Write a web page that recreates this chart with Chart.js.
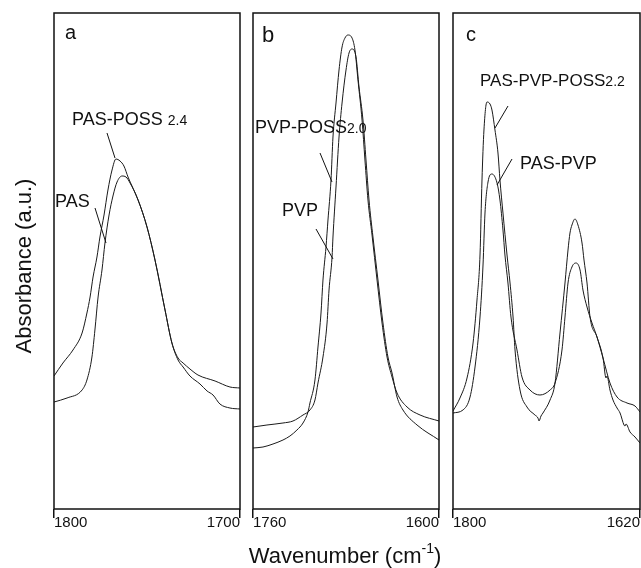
<!DOCTYPE html>
<html>
<head>
<meta charset="utf-8">
<script src="https://cdn.jsdelivr.net/npm/chart.js@4.4.1/dist/chart.umd.min.js"></script>
<style>
  body { margin: 0; width: 641px; height: 568px; overflow: hidden; background: #fff; }
  .panel { position: absolute; top: 0; }
  #notes { position: absolute; left: 0; top: 0; }
  #notes line { stroke: #111; stroke-width: 1; }
</style>
</head>
<body>
<div class="panel" style="left:50px"><canvas id="chartA" width="194" height="528"></canvas></div>
<div class="panel" style="left:249px"><canvas id="chartB" width="194" height="528"></canvas></div>
<div class="panel" style="left:449px"><canvas id="chartC" width="194" height="528"></canvas></div>

<svg id="notes" width="641" height="568" font-family="'Liberation Sans', Arial, sans-serif" fill="#111">
  <text x="65" y="39" font-size="20">a</text>
  <text x="72" y="125" font-size="18">PAS-POSS <tspan font-size="14">2.4</tspan></text>
  <line x1="107" y1="133" x2="115" y2="158"/>
  <text x="55" y="207" font-size="18">PAS</text>
  <line x1="95" y1="208" x2="106" y2="243"/>

  <text x="262" y="42" font-size="22">b</text>
  <text x="255" y="133" font-size="18">PVP-POSS<tspan font-size="14">2.0</tspan></text>
  <line x1="320" y1="153" x2="332" y2="182"/>
  <text x="282" y="216" font-size="18">PVP</text>
  <line x1="316" y1="229" x2="333" y2="259"/>

  <text x="466" y="41" font-size="20">c</text>
  <text x="480" y="86" font-size="17">PAS-PVP-POSS<tspan font-size="14">2.2</tspan></text>
  <line x1="508" y1="106" x2="495" y2="128"/>
  <text x="520" y="169" font-size="18">PAS-PVP</text>
  <line x1="512" y1="159" x2="497" y2="185"/>

  <text x="345" y="563" font-size="22" text-anchor="middle">Wavenumber (cm<tspan font-size="14" dy="-10">-1</tspan><tspan dy="10">)</tspan></text>
  <text transform="translate(31,266) rotate(-90)" font-size="22" text-anchor="middle">Absorbance (a.u.)</text>
</svg>

<script>
// ===== DATA =====
const ticksA = [1700, 1800];
const ticksB = [1600, 1760];
const ticksC = [1620, 1800];

// panel a
const pasPossWn  = [1800, 1795.2, 1789.8, 1784.9, 1782.3, 1780.6, 1779.0, 1776.9, 1775.3, 1773.1, 1771.0, 1768.8, 1766.7, 1764.5, 1762.4, 1760.2, 1754.8, 1750.0, 1745.7, 1740.3, 1736.6, 1733.3, 1730.6, 1726.9, 1722.6, 1713.4, 1705.4, 1700];
const pasPossAbs = [0.133, 0.146, 0.159, 0.176, 0.196, 0.212, 0.232, 0.252, 0.272, 0.294, 0.319, 0.339, 0.350, 0.348, 0.343, 0.332, 0.309, 0.282, 0.249, 0.199, 0.166, 0.151, 0.146, 0.140, 0.134, 0.128, 0.122, 0.121];
const pasWn  = [1800, 1793.0, 1784.9, 1782.3, 1779.6, 1778.0, 1776.3, 1774.2, 1772.6, 1770.4, 1768.3, 1766.1, 1763.4, 1761.3, 1759.1, 1754.8, 1750.0, 1745.7, 1740.3, 1736.6, 1733.3, 1730.6, 1726.9, 1721.5, 1717.7, 1714.5, 1710.8, 1705.4, 1700];
const pasAbs = [0.107, 0.111, 0.119, 0.129, 0.152, 0.179, 0.212, 0.239, 0.266, 0.294, 0.313, 0.327, 0.333, 0.332, 0.326, 0.309, 0.282, 0.249, 0.199, 0.166, 0.149, 0.142, 0.133, 0.125, 0.118, 0.114, 0.105, 0.101, 0.100];

// panel b
const pvpPossWn  = [1760, 1751.4, 1742.8, 1734.2, 1728.2, 1722.2, 1717.0, 1712.7, 1711.0, 1706.7, 1704.1, 1701.5, 1699.8, 1697.2, 1695.5, 1692.9, 1691.2, 1688.6, 1686.0, 1683.4, 1680.9, 1678.3, 1674.8, 1672.3, 1669.7, 1666.2, 1663.7, 1661.1, 1657.6, 1653.3, 1649.0, 1644.7, 1640.4, 1636.1, 1627.5, 1616.3, 1600];
const pvpPossAbs = [0.061, 0.062, 0.065, 0.069, 0.073, 0.079, 0.086, 0.097, 0.106, 0.129, 0.162, 0.196, 0.229, 0.262, 0.289, 0.329, 0.372, 0.406, 0.439, 0.462, 0.471, 0.474, 0.471, 0.459, 0.429, 0.389, 0.349, 0.309, 0.274, 0.229, 0.186, 0.152, 0.132, 0.116, 0.102, 0.094, 0.088];
const pvpWn  = [1760, 1748.0, 1734.2, 1725.6, 1717.0, 1711.0, 1706.7, 1704.1, 1699.8, 1696.3, 1694.6, 1692.0, 1691.2, 1688.6, 1686.0, 1683.4, 1680.0, 1677.4, 1674.8, 1671.4, 1668.8, 1665.4, 1662.8, 1660.2, 1656.8, 1652.5, 1648.2, 1643.9, 1640.4, 1636.1, 1631.0, 1618.9, 1600];
const pvpAbs = [0.082, 0.084, 0.086, 0.088, 0.094, 0.099, 0.109, 0.126, 0.152, 0.186, 0.219, 0.252, 0.272, 0.322, 0.372, 0.406, 0.439, 0.456, 0.460, 0.452, 0.422, 0.389, 0.349, 0.309, 0.272, 0.229, 0.186, 0.152, 0.136, 0.112, 0.099, 0.084, 0.069];

// panel c
const blendPossWn  = [1800, 1793.3, 1786.5, 1780.7, 1776.9, 1774.0, 1772.1, 1770.2, 1767.3, 1764.4, 1762.5, 1759.6, 1756.7, 1754.8, 1751.9, 1748.0, 1745.1, 1742.2, 1740.3, 1735.5, 1728.8, 1721.1, 1718.2, 1717.2, 1715.3, 1713.4, 1706.6, 1701.8, 1697.0, 1692.2, 1689.3, 1687.4, 1685.5, 1682.6, 1679.7, 1675.8, 1673.9, 1671.0, 1668.1, 1661.4, 1655.6, 1652.7, 1651.8, 1648.9, 1646.0, 1642.1, 1639.2, 1635.4, 1634.4, 1633.5, 1629.6, 1624.8, 1620];
const blendPossAbs = [0.098, 0.111, 0.131, 0.166, 0.209, 0.254, 0.329, 0.379, 0.407, 0.405, 0.399, 0.379, 0.356, 0.329, 0.296, 0.254, 0.226, 0.192, 0.159, 0.119, 0.102, 0.094, 0.091, 0.088, 0.093, 0.096, 0.109, 0.126, 0.176, 0.226, 0.259, 0.276, 0.284, 0.290, 0.284, 0.266, 0.249, 0.226, 0.192, 0.172, 0.151, 0.131, 0.133, 0.119, 0.109, 0.101, 0.096, 0.084, 0.083, 0.085, 0.077, 0.072, 0.066];
const blendWn  = [1800, 1790.4, 1783.6, 1778.8, 1774.0, 1771.1, 1769.2, 1766.3, 1762.5, 1757.6, 1754.8, 1751.9, 1750.0, 1747.1, 1744.2, 1738.4, 1733.6, 1725.9, 1716.3, 1706.6, 1701.8, 1695.1, 1692.2, 1689.3, 1685.5, 1681.6, 1677.7, 1674.9, 1671.0, 1666.2, 1661.4, 1655.6, 1648.9, 1642.1, 1632.5, 1624.8, 1620];
const blendAbs = [0.096, 0.099, 0.112, 0.142, 0.192, 0.244, 0.296, 0.327, 0.335, 0.326, 0.309, 0.279, 0.254, 0.226, 0.192, 0.159, 0.132, 0.119, 0.114, 0.119, 0.126, 0.159, 0.192, 0.226, 0.242, 0.246, 0.239, 0.219, 0.202, 0.186, 0.172, 0.151, 0.126, 0.112, 0.106, 0.103, 0.097];

const FONT = "'Liberation Sans', Arial, sans-serif";
const INK = '#111';

function pairs(wn, ab) {
  return wn.map(function (w, i) { return { x: w, y: ab[i] }; });
}

// box round the plot area
const framePlugin = {
  id: 'frame',
  afterDraw: function (chart) {
    const a = chart.chartArea;
    const ctx = chart.ctx;
    ctx.save();
    ctx.strokeStyle = INK;
    ctx.lineWidth = 1.5;
    ctx.strokeRect(a.left, a.top, a.right - a.left, a.bottom - a.top);
    ctx.restore();
  }
};

function makePanel(id, ticks, series, padRight) {
  new Chart(document.getElementById(id), {
    type: 'line',
    data: {
      datasets: series.map(function (s) {
        return {
          label: s.label,
          data: pairs(s.wn, s.ab),
          borderColor: '#1a1a1a',
          borderWidth: 1,
          pointRadius: 0,
          fill: false,
          cubicInterpolationMode: 'monotone'
        };
      })
    },
    options: {
      responsive: false,
      animation: false,
      events: [],
      layout: { padding: { left: 4, right: padRight, top: 13, bottom: 0 } },
      plugins: { legend: { display: false }, tooltip: { enabled: false } },
      scales: {
        x: {
          type: 'linear',
          reverse: true,
          min: ticks[0],
          max: ticks[1],
          afterBuildTicks: function (ax) { ax.ticks = ticks.map(function (v) { return { value: v }; }); },
          grid: { display: true, drawOnChartArea: false, drawTicks: true, tickLength: 9, color: INK, lineWidth: 1.5 },
          border: { display: false },
          ticks: {
            align: 'inner',
            padding: -4,
            maxRotation: 0,
            autoSkip: false,
            color: INK,
            font: { family: FONT, size: 15 },
            callback: function (v) { return String(v); }
          }
        },
        y: { display: false, min: 0, max: 0.496 }
      }
    },
    plugins: [framePlugin]
  });
}

makePanel('chartA', ticksA, [
  { label: 'PAS-POSS 2.4', wn: pasPossWn, ab: pasPossAbs },
  { label: 'PAS', wn: pasWn, ab: pasAbs }
], 4);

makePanel('chartB', ticksB, [
  { label: 'PVP-POSS2.0', wn: pvpPossWn, ab: pvpPossAbs },
  { label: 'PVP', wn: pvpWn, ab: pvpAbs }
], 4);

makePanel('chartC', ticksC, [
  { label: 'PAS-PVP-POSS2.2', wn: blendPossWn, ab: blendPossAbs },
  { label: 'PAS-PVP', wn: blendWn, ab: blendAbs }
], 3);
</script>
</body>
</html>
